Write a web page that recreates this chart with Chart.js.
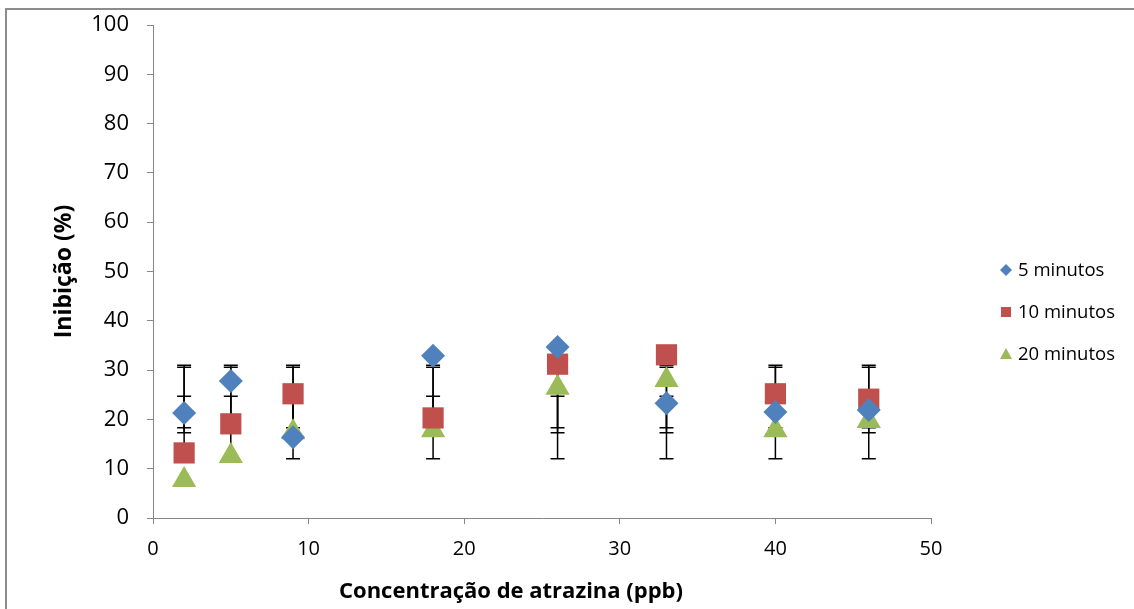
<!DOCTYPE html>
<html>
<head>
<meta charset="utf-8">
<script src="https://cdn.jsdelivr.net/npm/chart.js@4"></script>
<style>
  html, body { margin: 0; padding: 0; background: #fff; overflow: hidden; }
  #wrap { position: relative; width: 1134px; height: 609px; }
  #frame { position: absolute; left: 5px; top: 8px; width: 1140px; height: 620px;
           border-left: 2px solid #8c8c8c; border-top: 2px solid #8c8c8c; pointer-events: none; }
</style>
</head>
<body>
<div id="wrap">
  <canvas id="chartInib" width="1134" height="609"></canvas>
  <div id="frame"></div>
</div>
<script>
// concentracoes (ppb)
const conc = [2, 5, 9, 18, 26, 33, 40, 46];

const inib5 = [21.3, 27.8, 16.4, 32.9, 34.7, 23.3, 21.5, 21.9];
const inib10 = [13.2, 19.1, 25.2, 20.3, 31.2, 33.1, 25.2, 24.1];
const inib20 = [7.7, 12.6, 17.4, 17.8, 26.4, 28.0, 17.8, 19.7];

// barras de erro (limite inferior / superior)
const errLo5 = [12, 12, 12, 12, 12, 12, 12, 12];
const errHi5 = [31, 31, 31, 31, 31, 31, 31, 31];
const errLo10 = [17.3, 17.3, 17.3, 17.3, 17.3, 17.3, 17.3, 17.3];
const errHi10 = [30.6, 30.6, 30.6, 30.6, 30.6, 30.6, 30.6, 30.6];
const errLo20 = [18.3, 18.3, 18.3, 18.3, 18.3, 18.3, 18.3, 18.3];
const errHi20 = [24.7, 24.7, 24.7, 24.7, 24.7, 24.7, 24.7, 24.7];

const xTicks = [0, 10, 20, 30, 40, 50];
const yTicks = [0, 10, 20, 30, 40, 50, 60, 70, 80, 90, 100];

const seriesNames = ["5 minutos", "10 minutos", "20 minutos"];
const colors = ["#4F81BD", "#C0504D", "#9BBB59"];

const toPts = (ys, lo, hi) => ys.map((y, i) => ({ x: conc[i], y, lo: lo[i], hi: hi[i] }));

const errorBars = {
  id: "errorBars",
  beforeDatasetsDraw(chart) {
    const { ctx, scales: { x, y } } = chart;
    ctx.save();
    ctx.strokeStyle = "#000";
    ctx.lineWidth = 1.5;
    chart.data.datasets.forEach(ds => {
      ds.data.forEach(p => {
        const px = x.getPixelForValue(p.x);
        const yl = y.getPixelForValue(p.lo);
        const yh = y.getPixelForValue(p.hi);
        ctx.beginPath();
        ctx.moveTo(px, yl); ctx.lineTo(px, yh);
        ctx.moveTo(px - 7, yl); ctx.lineTo(px + 7, yl);
        ctx.moveTo(px - 7, yh); ctx.lineTo(px + 7, yh);
        ctx.stroke();
      });
    });
    ctx.restore();
  }
};

const extras = {
  id: "extras",
  afterDraw(chart) {
    const { ctx } = chart;
    ctx.save();
    // titulo do eixo x
    ctx.fillStyle = "#000";
    ctx.font = "bold 22px 'Open Sans'";
    ctx.textAlign = "center";
    ctx.textBaseline = "middle";
    ctx.fillText("Concentração de atrazina (ppb)", 511, 592);

    // legenda
    ctx.font = "18.5px 'Open Sans'";
    ctx.textAlign = "left";
    const lx = 1006, ly = [270, 312, 354];
    seriesNames.forEach((name, i) => {
      ctx.fillStyle = colors[i];
      ctx.beginPath();
      if (i === 0) {
        ctx.moveTo(lx, ly[i] - 6); ctx.lineTo(lx + 6, ly[i]);
        ctx.lineTo(lx, ly[i] + 6); ctx.lineTo(lx - 6, ly[i]);
      } else if (i === 1) {
        ctx.rect(lx - 5, ly[i] - 5, 10, 10);
      } else {
        ctx.moveTo(lx, ly[i] - 6); ctx.lineTo(lx + 6, ly[i] + 5); ctx.lineTo(lx - 6, ly[i] + 5);
      }
      ctx.closePath();
      ctx.fill();
      ctx.fillStyle = "#000";
      ctx.fillText(name, lx + 12, ly[i] + 1);
    });
    ctx.restore();
  }
};

new Chart(document.getElementById("chartInib"), {
  type: "scatter",
  data: {
    datasets: [
      { label: seriesNames[0], data: toPts(inib5, errLo5, errHi5), pointStyle: "rectRot",
        radius: 12, backgroundColor: colors[0], borderColor: colors[0], borderWidth: 0 },
      { label: seriesNames[1], data: toPts(inib10, errLo10, errHi10), pointStyle: "rect",
        radius: 15, backgroundColor: colors[1], borderColor: colors[1], borderWidth: 0 },
      { label: seriesNames[2], data: toPts(inib20, errLo20, errHi20), pointStyle: "triangle",
        radius: 14, backgroundColor: colors[2], borderColor: colors[2], borderWidth: 0 }
    ]
  },
  options: {
    responsive: false,
    animation: false,
    events: [],
    layout: { padding: { top: 25, right: 203, left: 0, bottom: 0 } },
    plugins: { legend: { display: false }, tooltip: { enabled: false } },
    scales: {
      x: {
        type: "linear",
        min: 0, max: 50,
        afterBuildTicks: s => { s.ticks = xTicks.map(v => ({ value: v })); },
        afterFit: s => { s.height = 91; s.paddingLeft = 0; s.paddingRight = 0; },
        grid: { drawOnChartArea: false, tickLength: 6, color: "#868686" },
        border: { color: "#868686", width: 1 },
        ticks: { color: "#000", padding: 13, font: { family: "'Open Sans'", size: 20 } }
      },
      y: {
        min: 0, max: 100,
        afterBuildTicks: s => { s.ticks = yTicks.map(v => ({ value: v })); },
        afterFit: s => { s.width = 153; s.paddingTop = 0; s.paddingBottom = 0; },
        grid: { drawOnChartArea: false, tickLength: 6, color: "#868686" },
        border: { color: "#868686", width: 1 },
        ticks: { color: "#000", padding: 18, font: { family: "'Open Sans'", size: 22 } },
        title: { display: true, text: "Inibição (%)", color: "#000", padding: { top: 51, bottom: 0 },
                 font: { family: "'Open Sans'", size: 23, weight: "bold" } }
      }
    }
  },
  plugins: [errorBars, extras]
});
</script>
</body>
</html>
